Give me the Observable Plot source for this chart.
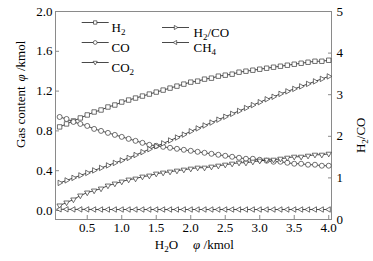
<!DOCTYPE html>
<html>
<head>
<meta charset="utf-8">
<script src="https://cdn.jsdelivr.net/npm/d3@7"></script>
<script src="https://cdn.jsdelivr.net/npm/@observablehq/plot@0.6"></script>
<style>
  html, body { margin: 0; padding: 0; background: white; }
  #chart svg, #chart svg text { font-family: "Liberation Serif", "Times New Roman", Times, serif !important; }
</style>
</head>
<body>
<div id="chart"></div>
<script>
// ---- data ----
const xValues = [0.1,0.2,0.3,0.4,0.5,0.6,0.7,0.8,0.9,1.0,1.1,1.2,1.3,1.4,1.5,1.6,1.7,1.8,1.9,2.0,
                 2.1,2.2,2.3,2.4,2.5,2.6,2.7,2.8,2.9,3.0,3.1,3.2,3.3,3.4,3.5,3.6,3.7,3.8,3.9,4.0];
const h2 = [0.84,0.87,0.90,0.93,0.96,0.99,1.01,1.04,1.06,1.09,1.11,1.13,1.15,1.17,1.19,1.21,1.23,1.25,1.27,1.29,
            1.30,1.32,1.33,1.35,1.36,1.37,1.39,1.40,1.41,1.42,1.43,1.44,1.45,1.46,1.47,1.48,1.49,1.50,1.50,1.51];
const co = [0.94,0.92,0.89,0.87,0.85,0.82,0.80,0.78,0.76,0.74,0.72,0.70,0.68,0.66,0.65,0.64,0.63,0.62,0.61,0.60,
            0.59,0.58,0.57,0.56,0.55,0.54,0.53,0.52,0.52,0.51,0.50,0.49,0.49,0.48,0.47,0.47,0.46,0.46,0.45,0.45];
const co2 = [0.05,0.08,0.11,0.15,0.18,0.20,0.22,0.25,0.27,0.29,0.31,0.32,0.34,0.35,0.37,0.38,0.39,0.40,0.41,0.42,
             0.43,0.43,0.44,0.45,0.46,0.47,0.48,0.48,0.49,0.50,0.51,0.51,0.52,0.53,0.54,0.54,0.55,0.56,0.56,0.57];
const h2co = [0.88,0.94,1.00,1.06,1.12,1.18,1.24,1.30,1.36,1.42,1.48,1.55,1.62,1.69,1.76,1.83,1.90,1.97,2.04,2.12,
              2.19,2.26,2.33,2.40,2.47,2.54,2.61,2.68,2.75,2.82,2.89,2.95,3.02,3.08,3.14,3.20,3.26,3.32,3.38,3.44];
const ch4 = [0.012,0.012,0.011,0.011,0.011,0.010,0.010,0.010,0.010,0.010,0.010,0.010,0.010,0.010,0.010,0.010,0.010,0.010,0.010,0.010,
             0.010,0.010,0.010,0.010,0.010,0.010,0.010,0.010,0.010,0.010,0.010,0.010,0.010,0.010,0.010,0.010,0.010,0.010,0.010,0.010];

const xTicks = [0.5,1.0,1.5,2.0,2.5,3.0,3.5,4.0];
const leftTicks = [0.0,0.4,0.8,1.2,1.6,2.0];
const rightTicks = [0,1,2,3,4,5];
const xLabelName = "H_2O";
const yLabelName = "Gas content";
const unitLabel = "φ /kmol";
const rightLabel = "H_2/CO";

// ---- scales ----
const xDomain = [0.04, 4.04];
const yDomain = [-0.0905, 2.0];
const rightDomain = [0, 5];
const toLeft = v => yDomain[0] + (v - rightDomain[0]) * (yDomain[1] - yDomain[0]) / (rightDomain[1] - rightDomain[0]);
const fromLeft = v => rightDomain[0] + (v - yDomain[0]) * (rightDomain[1] - rightDomain[0]) / (yDomain[1] - yDomain[0]);

// ---- symbols ----
const tri = (angle) => ({
  draw(context, size) {
    const R = Math.sqrt(size / Math.PI) * 1.25;
    for (let i = 0; i < 3; i++) {
      const a = angle + i * 2 * Math.PI / 3;
      const px = R * Math.cos(a), py = R * Math.sin(a);
      if (i === 0) context.moveTo(px, py); else context.lineTo(px, py);
    }
    context.closePath();
  }
});
const triDown = tri(Math.PI / 2);
const triRight = tri(0);
const triLeft = tri(Math.PI);
const legendLine = {
  draw(context, size) {
    context.moveTo(-13.5, 0);
    context.lineTo(13.5, 0);
  }
};

const series = [
  {name: "H_2", values: h2, right: false, symbol: "square", lx: 39.7, ly: 11, tx: 56},
  {name: "CO", values: co, right: false, symbol: "circle", lx: 39.7, ly: 31, tx: 56},
  {name: "CO_2", values: co2, right: false, symbol: triDown, lx: 39.7, ly: 51, tx: 56},
  {name: "H_2/CO", values: h2co, right: true, symbol: triRight, lx: 120, ly: 16, tx: 138},
  {name: "CH_4", values: ch4, right: false, symbol: triLeft, lx: 120, ly: 31, tx: 138}
];

const ink = "#1a1a1a";
const marks = [];
for (const s of series) {
  const rows = xValues.map((x, i) => ({x, y: s.right ? toLeft(s.values[i]) : s.values[i]}));
  marks.push(Plot.line(rows, {x: "x", y: "y", stroke: ink, strokeWidth: 0.8}));
  marks.push(Plot.dot(rows, {x: "x", y: "y", symbol: s.symbol, r: 2.5, fill: "white", stroke: "#333", strokeWidth: 0.7}));
}
// legend (positioned relative to the frame)
for (const s of series) {
  marks.push(Plot.dot([s.name], {frameAnchor: "top-left", dx: s.lx, dy: s.ly, symbol: legendLine, r: 3, stroke: ink, strokeWidth: 0.8}));
  marks.push(Plot.dot([s.name], {frameAnchor: "top-left", dx: s.lx, dy: s.ly, symbol: s.symbol, r: 1.9, fill: "white", stroke: "#333", strokeWidth: 0.7}));
  marks.push(Plot.text([s.name], {frameAnchor: "top-left", dx: s.tx, dy: s.ly, text: d => d, textAnchor: "start", fill: "black", fontSize: 13}));
}

const chart = Plot.plot({
  width: 373,
  height: 261,
  marginLeft: 55,
  marginRight: 42,
  marginTop: 11,
  marginBottom: 42,
  style: {fontFamily: "Liberation Serif", fontSize: "13px", background: "white", color: "black"},
  x: {domain: xDomain},
  y: {domain: yDomain},
  marks: [
    Plot.frame({stroke: "#8a8a8a", strokeWidth: 1}),
    Plot.axisX(xTicks, {anchor: "bottom", tickSize: -4, tickPadding: 7, tickFormat: d3.format(".1f"), stroke: "#8a8a8a", fill: "black", label: null}),
    Plot.axisY(leftTicks, {anchor: "left", tickSize: -4, tickPadding: 7, tickFormat: d3.format(".1f"), stroke: "#8a8a8a", fill: "black", label: null}),
    Plot.axisY(rightTicks.map(toLeft), {anchor: "right", tickSize: -4, tickPadding: 9, tickFormat: d => String(Math.round(fromLeft(d))), stroke: "#8a8a8a", fill: "black", label: null}),
    ...marks,
    // left axis title: "Gas content" (lower) and "φ /kmol" (upper)
    Plot.text([yLabelName], {frameAnchor: "left", dx: -35, dy: 32.5, rotate: -90, text: d => d, fill: "black", fontSize: 13}),
    Plot.text([unitLabel], {frameAnchor: "left", dx: -35, dy: -34, rotate: -90, text: d => d, fill: "black", fontSize: 13}),
    // right axis title
    Plot.text([rightLabel], {frameAnchor: "right", dx: 29, dy: 2, rotate: -90, text: d => d, fill: "black", fontSize: 13}),
    // bottom axis title: "H2O" and "φ /kmol"
    Plot.text([xLabelName], {frameAnchor: "bottom", dx: -27, dy: 29, text: d => d, fill: "black", fontSize: 13}),
    Plot.text([unitLabel], {frameAnchor: "bottom", dx: 20, dy: 29, text: d => d, fill: "black", fontSize: 13})
  ]
});

// rich text: subscripts (_n) and italic φ
function richify(svg) {
  svg.querySelectorAll("text").forEach(t => {
    t.style.setProperty("font-family", "'Liberation Serif', 'Times New Roman', serif", "important");
    if (t.querySelector("tspan")) return;
    const s = t.textContent;
    if (!/[_φ]/.test(s)) return;
    t.textContent = "";
    const re = /_(\d)|(φ)|([^_φ]+)/g;
    let m, shifted = false;
    while ((m = re.exec(s))) {
      const ts = document.createElementNS("http://www.w3.org/2000/svg", "tspan");
      if (m[1]) {
        ts.textContent = m[1];
        ts.setAttribute("font-size", "9");
        ts.setAttribute("dy", "3");
        shifted = true;
      } else {
        ts.textContent = m[2] || m[3];
        if (m[2]) ts.setAttribute("font-style", "italic");
        if (shifted) { ts.setAttribute("dy", "-3"); shifted = false; }
      }
      t.appendChild(ts);
    }
  });
}
richify(chart);
document.getElementById("chart").appendChild(chart);
</script>
</body>
</html>
